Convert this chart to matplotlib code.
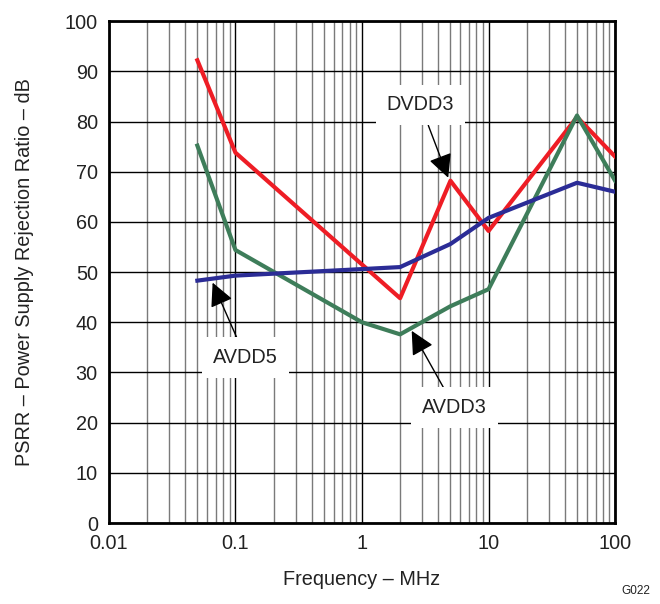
import matplotlib
matplotlib.use('Agg')
import matplotlib.pyplot as plt
from matplotlib.ticker import FixedLocator, NullFormatter

plt.rcParams['font.family'] = ['Liberation Sans', 'DejaVu Sans']

# frequency points, MHz
dvdd3_f = [0.05, 0.1, 2, 5, 10, 50, 100]
dvdd3_db = [92.2, 73.8, 44.8, 68.2, 58.2, 80.9, 73.0]

avdd3_f = [0.05, 0.1, 1, 2, 5, 10, 50, 100]
avdd3_db = [75.2, 54.4, 40.0, 37.6, 43.2, 46.6, 81.2, 68.2]

avdd5_f = [0.05, 0.1, 1, 2, 5, 10, 50, 100]
avdd5_db = [48.3, 49.3, 50.6, 51.0, 55.6, 60.8, 67.8, 66.0]

xticks = [0.01, 0.1, 1, 10, 100]
xticklabels = ['0.01', '0.1', '1', '10', '100']
yticks = list(range(0, 101, 10))

fs = 14.3
txt = '#222222'

fig = plt.figure(figsize=(6.6, 6.04), dpi=100)
ax = fig.add_axes([0.165, 0.134, 0.767, 0.831])

ax.set_xscale('log')
ax.set_xlim(0.01, 100)
ax.set_ylim(0, 100)

minors = [m * 10.0 ** e for e in range(-2, 2) for m in range(2, 10)]
ax.xaxis.set_minor_locator(FixedLocator(minors))
ax.xaxis.set_minor_formatter(NullFormatter())
ax.set_xticks(xticks)
ax.set_xticklabels(xticklabels)
ax.set_yticks(yticks)

ax.grid(which='major', axis='both', color='black', lw=1.0)
ax.grid(which='minor', axis='x', color='#7a7a7a', lw=1.0)
ax.set_axisbelow(True)
ax.tick_params(which='both', length=0, labelsize=fs, pad=8, colors=txt)

for s in ax.spines.values():
    s.set_linewidth(2)
    s.set_color('black')

ax.plot(dvdd3_f, dvdd3_db, color='#ee1d25', lw=3, zorder=3)
ax.plot(avdd3_f, avdd3_db, color='#3e7d5a', lw=3, zorder=3)
ax.plot(avdd5_f, avdd5_db, color='#2b2c96', lw=3, zorder=4)

arrow = dict(arrowstyle='-|>', color='black', lw=1.0, mutation_scale=36, shrinkA=0, shrinkB=0)
box = dict(boxstyle='square,pad=0.55', fc='white', ec='none')

ax.annotate('DVDD3', xy=(4.8, 68.8), xytext=(2.9, 83.3), fontsize=fs, color=txt,
            ha='center', va='center', bbox=box, arrowprops=arrow, zorder=5)
ax.annotate('AVDD5', xy=(0.066, 47.9), xytext=(0.12, 33.0), fontsize=fs, color=txt,
            ha='center', va='center', bbox=box, arrowprops=arrow, zorder=5)
ax.annotate('AVDD3', xy=(2.47, 38.3), xytext=(5.4, 23.0), fontsize=fs, color=txt,
            ha='center', va='center', bbox=box, arrowprops=arrow, zorder=5)

ax.set_xlabel('Frequency \u2013 MHz', fontsize=fs, color=txt, labelpad=12)
ax.set_ylabel('PSRR \u2013 Power Supply Rejection Ratio \u2013 dB', fontsize=fs, color=txt, labelpad=22)

fig.text(0.985, 0.012, 'G022', fontsize=8.5, ha='right', va='bottom', color=txt)

fig.savefig('out.png', dpi=100)
